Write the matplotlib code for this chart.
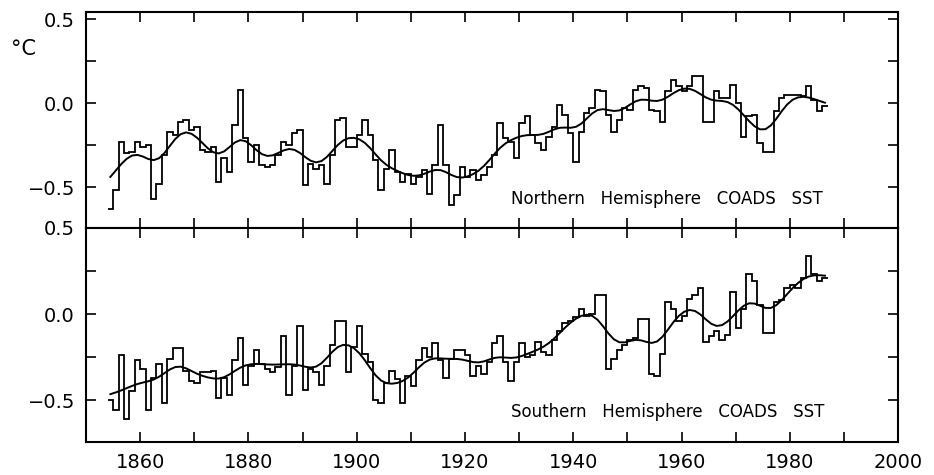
import numpy as np
import matplotlib.pyplot as plt
from matplotlib.ticker import MultipleLocator

# annual SST anomalies (deg C), 1854-1986
years = list(range(1854, 1987))

nh_sst = [
    -0.63, -0.52, -0.23, -0.30, -0.29, -0.23, -0.26, -0.25, -0.57, -0.48,  # 1854-1863
    -0.31, -0.17, -0.19, -0.11, -0.10, -0.16, -0.14, -0.28, -0.29, -0.26,  # 1864-1873
    -0.47, -0.33, -0.41, -0.13, 0.08, -0.21, -0.35, -0.25, -0.37, -0.38,   # 1874-1883
    -0.37, -0.31, -0.23, -0.25, -0.18, -0.16, -0.49, -0.36, -0.39, -0.37,  # 1884-1893
    -0.48, -0.31, -0.10, -0.09, -0.26, -0.26, -0.19, -0.10, -0.19, -0.34,  # 1894-1903
    -0.52, -0.39, -0.28, -0.41, -0.47, -0.42, -0.48, -0.44, -0.40, -0.54,  # 1904-1913
    -0.37, -0.13, -0.37, -0.61, -0.55, -0.38, -0.44, -0.40, -0.46, -0.43,  # 1914-1923
    -0.38, -0.31, -0.12, -0.21, -0.23, -0.33, -0.12, -0.08, -0.19, -0.24,  # 1924-1933
    -0.28, -0.20, -0.14, -0.01, -0.07, -0.18, -0.35, -0.17, -0.06, -0.03,  # 1934-1943
    0.08, 0.07, -0.07, -0.17, -0.10, -0.03, -0.04, 0.08, 0.10, 0.09,       # 1944-1953
    -0.04, -0.05, -0.11, 0.07, 0.14, 0.10, 0.07, 0.10, 0.16, 0.16,         # 1954-1963
    -0.11, -0.11, 0.07, 0.03, 0.03, 0.11, 0.00, -0.20, -0.08, -0.07,       # 1964-1973
    -0.24, -0.29, -0.29, -0.05, 0.03, 0.05, 0.05, 0.05, 0.04, 0.10,        # 1974-1983
    0.02, -0.05, -0.02,                                                    # 1984-1986
]

sh_sst = [
    -0.50, -0.56, -0.24, -0.61, -0.45, -0.27, -0.32, -0.56, -0.37, -0.29,  # 1854-1863
    -0.52, -0.26, -0.20, -0.20, -0.33, -0.39, -0.40, -0.34, -0.34, -0.33,  # 1864-1873
    -0.49, -0.37, -0.47, -0.27, -0.14, -0.41, -0.30, -0.21, -0.29, -0.32,  # 1874-1883
    -0.34, -0.31, -0.13, -0.47, -0.30, -0.07, -0.44, -0.32, -0.34, -0.41,  # 1884-1893
    -0.30, -0.18, -0.04, -0.04, -0.34, -0.19, -0.07, -0.23, -0.28, -0.50,  # 1894-1903
    -0.52, -0.40, -0.33, -0.38, -0.52, -0.36, -0.42, -0.27, -0.20, -0.25,  # 1904-1913
    -0.17, -0.27, -0.37, -0.26, -0.21, -0.21, -0.24, -0.36, -0.30, -0.35,  # 1914-1923
    -0.28, -0.17, -0.13, -0.28, -0.39, -0.28, -0.17, -0.25, -0.24, -0.16,  # 1924-1933
    -0.22, -0.24, -0.15, -0.10, -0.05, -0.04, -0.02, 0.03, -0.01, 0.00,    # 1934-1943
    0.11, 0.11, -0.32, -0.26, -0.21, -0.18, -0.15, -0.14, -0.03, -0.03,    # 1944-1953
    -0.35, -0.36, -0.23, 0.07, 0.03, -0.04, -0.01, 0.09, 0.11, 0.15,       # 1954-1963
    -0.16, -0.13, -0.10, -0.15, -0.12, 0.13, -0.08, 0.03, 0.23, 0.19,      # 1964-1973
    0.05, -0.11, -0.11, 0.07, 0.08, 0.15, 0.17, 0.15, 0.21, 0.34,          # 1974-1983
    0.23, 0.19, 0.21,                                                      # 1984-1986
]

panel_labels = ['Northern   Hemisphere   COADS   SST',
                'Southern   Hemisphere   COADS   SST']
x_ticks = [1860, 1880, 1900, 1920, 1940, 1960, 1980, 2000]
y_ticks = [-0.5, 0.0, 0.5]
y_tick_labels = ['\u22120.5', '0.0', '0.5']


def smooth(vals, sigma=2.3, half=8):
    """Gaussian low-pass filter, renormalised near the ends"""
    v = np.asarray(vals, dtype=float)
    k = np.arange(-half, half + 1)
    w = np.exp(-k**2 / (2 * sigma**2))
    out = np.empty_like(v)
    for i in range(len(v)):
        idx = i + k
        ok = (idx >= 0) & (idx < len(v))
        out[i] = np.sum(w[ok] * v[idx[ok]]) / np.sum(w[ok])
    return out


plt.rcParams['font.family'] = 'DejaVu Sans'

fig = plt.figure(figsize=(9.34, 4.75), dpi=100)
ax_n = fig.add_axes([0.0921, 0.52, 0.8694, 0.4547])
ax_s = fig.add_axes([0.0921, 0.0695, 0.8694, 0.4505])

edges = years + [years[-1] + 1]
centres = np.array(years) + 0.5

for ax, data, label, ylim in [(ax_n, nh_sst, panel_labels[0], (-0.744, 0.542)),
                              (ax_s, sh_sst, panel_labels[1], (-0.744, 0.5))]:
    ax.stairs(data, edges, baseline=None, color='black', lw=1.3)
    ax.plot(centres, smooth(data), color='black', lw=1.4)
    ax.set_xlim(1850, 2000)
    ax.set_ylim(*ylim)
    ax.set_yticks(y_ticks)
    ax.set_yticklabels(y_tick_labels, fontsize=14)
    ax.yaxis.set_minor_locator(MultipleLocator(0.25))
    ax.set_xticks(x_ticks)
    ax.xaxis.set_minor_locator(MultipleLocator(10))
    ax.tick_params(which='both', direction='in', top=True, right=True,
                   length=7, width=1.2, pad=8)
    for s in ax.spines.values():
        s.set_linewidth(1.5)
    ax.text(1928.5, -0.57, label, fontsize=12, va='center', ha='left')

ax_n.tick_params(labelbottom=False)
ax_s.set_xticklabels([str(t) for t in x_ticks], fontsize=14)

fig.text(0.012, 0.885, '\u00b0C', fontsize=15)

fig.savefig('out.png', dpi=100)
